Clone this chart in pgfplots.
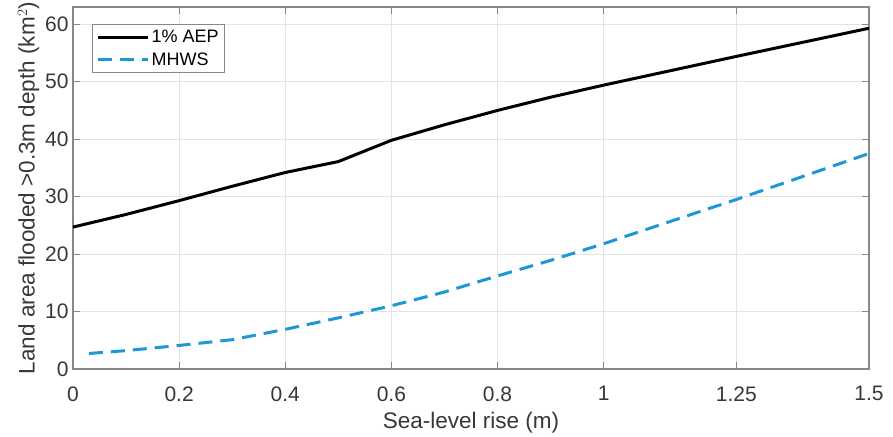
\documentclass[border=0pt]{standalone}
\usepackage{pgfplots}
\pgfplotsset{compat=1.18}
\usepackage{fontspec}
\setmainfont{Liberation Sans}
\definecolor{mblue}{RGB}{28,152,214}
\definecolor{axgray}{RGB}{135,135,135}
\definecolor{txtgray}{RGB}{55,55,55}
\definecolor{gridgray}{RGB}{228,228,228}
\begin{document}
\begin{tikzpicture}
\begin{axis}[
  scale only axis,
  width=796pt, height=362pt,
  xmin=0, xmax=1.5, ymin=0, ymax=63,
  xtick={0,0.2,0.4,0.6,0.8,1,1.25,1.5},
  xticklabels={0,0.2,0.4,0.6,0.8,1,1.25,1.5},
  ytick={0,10,20,30,40,50,60},
  /pgf/number format/assume math mode=true,
  tick align=inside,
  major tick length=7pt,
  grid=major,
  major grid style={draw=gridgray, line width=0.8pt},
  axis line style={draw=axgray, line width=1.3pt},
  every tick/.style={draw=axgray, line width=1pt},
  tick label style={font=\fontsize{21}{23}\selectfont, text=txtgray},
  xticklabel style={yshift=-14pt},
  yticklabel style={xshift=-1pt},
  xlabel={Sea-level rise (m)},
  ylabel={Land area flooded >0.3m depth (km$^2$)},
  label style={font=\fontsize{22.5}{24}\selectfont, text=txtgray},
  xlabel style={yshift=-4pt},
  ylabel style={yshift=-1pt},
  legend style={at={(rel axis cs:0.024,0.953)}, anchor=north west,
    draw=axgray, line width=1pt, font=\fontsize{18}{20}\selectfont,
    text=black, inner sep=4pt, row sep=4pt, cells={anchor=west}},
  legend cell align=left,
  legend image post style={line width=3pt},
  legend image code/.code={\draw[#1] (0cm,0cm) -- (50pt,0cm);},
]
\addplot[black, line width=3pt] coordinates {
 (0,24.7) (0.1,26.9) (0.2,29.3) (0.3,31.8) (0.4,34.2) (0.5,36.1)
 (0.6,39.8) (0.7,42.5) (0.8,45.0) (0.9,47.3) (1.0,49.4)
 (1.25,54.4) (1.5,59.3)};
\addlegendentry{1\% AEP}
\addplot[mblue, line width=3pt, dash pattern=on 14pt off 8pt] coordinates {
 (0.03,2.7) (0.1,3.2) (0.2,4.1) (0.3,5.1) (0.4,6.9) (0.5,8.9)
 (0.6,11.0) (0.7,13.4) (0.8,16.2) (0.9,18.9) (1.0,21.8)
 (1.1,24.9) (1.25,29.5) (1.5,37.5)};
\addlegendentry{MHWS}
\end{axis}
\pgfresetboundingbox
\path[use as bounding box] (-73pt,-67pt) rectangle (820pt,369pt);
\end{tikzpicture}
\end{document}
